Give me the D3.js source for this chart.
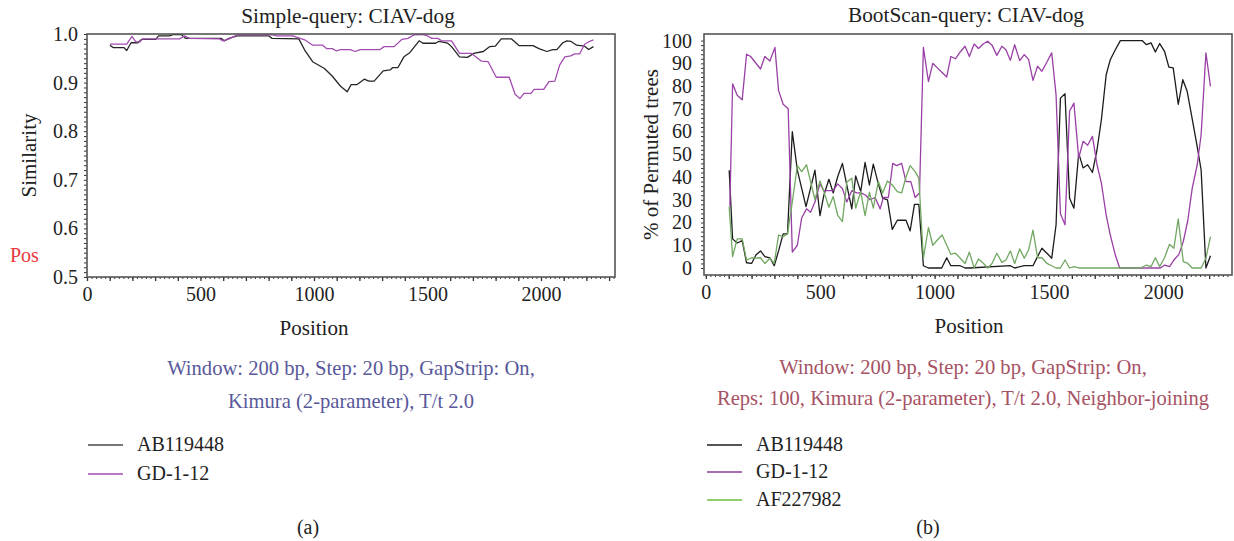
<!DOCTYPE html>
<html><head><meta charset="utf-8">
<script src="https://cdn.jsdelivr.net/npm/d3@7"></script>
<style>
body{margin:0;background:#fff;}
text{font-family:"Liberation Serif","Times New Roman",serif;}
</style></head>
<body><svg id="c" width="1234" height="541"></svg>
<script>
// ---------- DATA ----------
// (a) Simple-query similarity
const simAB_pos = [101,115,163,175,194,224,241,303,315,364,381,416,434,591,604,626,661,801,815,933,959,994,1046,1081,1116,1146,1164,1190,1221,1242,1265,1305,1335,1347,1370,1396,1423,1463,1480,1536,1550,1589,1606,1641,1676,1703,1746,1773,1799,1825,1869,1904,1965,1991,2026,2052,2070,2096,2114,2131,2157,2192,2210,2231];
const simAB_val = [.977,.972,.972,.966,.982,.982,.989,.989,.996,.996,.999,.999,.991,.991,.986,.991,.996,.996,.991,.990,.967,.943,.929,.913,.893,.881,.896,.896,.907,.903,.903,.924,.926,.931,.931,.953,.962,.986,.981,.981,.985,.981,.974,.953,.952,.960,.964,.974,.975,.990,.990,.976,.976,.970,.964,.968,.968,.982,.986,.985,.977,.975,.968,.974];
const simGD_pos = [101,175,198,215,233,245,408,430,451,583,600,626,661,819,836,906,959,994,1038,1055,1081,1099,1116,1160,1181,1204,1291,1309,1353,1388,1414,1440,1475,1501,1519,1545,1563,1606,1641,1694,1738,1767,1803,1860,1886,1907,1925,1956,1970,2012,2035,2061,2082,2105,2131,2149,2170,2192,2219,2231];
const simGD_val = [.979,.979,.995,.984,.984,.990,.990,.996,.991,.990,.986,.990,.998,.998,.996,.996,.988,.977,.977,.970,.970,.965,.968,.968,.964,.968,.968,.974,.974,.989,.991,.998,.999,.996,.991,.991,.986,.986,.960,.960,.944,.943,.911,.911,.876,.867,.878,.878,.886,.886,.902,.903,.936,.953,.955,.959,.959,.979,.986,.988];
const simXTicks = [0,500,1000,1500,2000];
const simYTicks = [0.5,0.6,0.7,0.8,0.9,1.0];

// (b) BootScan-query
const bootAB_pos = [102,117,137,159,178,200,219,239,258,280,299,318,338,357,378,400,438,477,499,516,538,557,576,597,616,638,655,677,696,715,732,754,773,794,815,837,875,893,912,931,951,973,1031,1053,1071,1112,1133,1152,1331,1350,1392,1430,1450,1469,1491,1512,1531,1550,1570,1590,1609,1630,1649,1669,1690,1710,1729,1750,1768,1790,1812,1907,1926,1946,1965,1984,2005,2024,2043,2065,2085,2104,2124,2145,2165,2186,2206];
const bootAB_val = [43,12.8,11,12,2.3,2,5.7,7.5,5,4.5,1,7.5,15,15,60,43,27,43,23,32,39,33,40,46,36.5,26,40.5,33.6,46.4,36.5,45.7,37,30.7,30,17,21,21,16.3,28,28,1,0,0,4.5,1,1,0,0,1,0,1,1,5,8.7,6.5,4.3,19,74.7,76.6,30.7,26.3,50.5,44,45.4,42,52,65.2,85,91.6,96,100,100,98.2,99,95,98.7,95.3,88.3,88,72,82.8,77.7,66.7,55,43.2,0,5.4];
const bootGD_pos = [105,117,137,159,178,196,239,258,280,302,318,338,360,378,400,419,440,458,477,499,516,538,557,576,597,616,638,659,678,699,718,740,762,776,798,817,834,856,875,896,915,934,951,973,992,1012,1033,1053,1071,1091,1112,1133,1152,1173,1192,1212,1232,1251,1272,1294,1312,1331,1350,1372,1392,1411,1430,1450,1469,1491,1512,1531,1550,1570,1590,1609,1630,1649,1669,1690,1710,1729,1750,1768,1790,1809,1987,2006,2027,2046,2068,2087,2107,2126,2148,2165,2186,2206];
const bootGD_val = [27,81,76,74,94,93,87.5,93,91,97,78,72,70,7,10,22,26,24.5,29,37,34,34,34,37,35,29,34,33,33,32,30,31,26,31,31,46,45,46,38,38,31,33,97,82,90,88,86,84,93,92,95,97.5,93,98.5,96.5,98.5,99.7,98,93.5,97.5,96,91.3,98.2,91.2,93.8,91.6,82.5,88.7,86.5,90.6,94.6,76,24,19,68.9,72.5,48.3,55.7,54,57.9,45.4,37.3,23.3,14.5,5.7,0,0,1.3,0.6,3.5,6,11.6,21,35,45.4,58.6,94.6,79.9];
const bootAF_pos = [102,117,137,159,178,200,219,239,258,280,299,318,338,357,378,400,419,440,458,477,499,516,538,557,576,597,616,638,655,677,696,715,732,754,773,794,815,837,856,875,893,915,931,951,973,992,1012,1033,1053,1071,1091,1112,1133,1152,1173,1192,1214,1232,1251,1272,1294,1312,1331,1350,1372,1392,1411,1430,1450,1469,1491,1512,1531,1550,1570,1590,1609,1630,1900,1926,1946,1965,1984,2005,2027,2046,2065,2087,2107,2126,2165,2186,2206];
const bootAF_val = [27,5,12.8,12.8,3.5,4.5,4.3,4.5,2,4.3,2,14.5,13.8,15,29,45,42.4,45.4,38,30,38.3,33.6,26.7,31.4,23.3,20.4,37.7,39.5,26.3,33.6,23,33.3,26.3,38,33,38.3,36.5,33.6,33,40,45,42.4,39.5,4.3,17.8,10,12.3,14.5,10,6,6.5,4.3,2,7,0,4,2,0,2,6.5,2.5,3.5,7.5,2,8.4,4.3,8,16.7,4.5,4.5,2,1,0,0,3.5,0,0.6,0,0,1.3,0.6,4.5,0.6,4.5,10.4,8.7,21.6,2.8,2,0,0,4.3,13.8];
const bootXTicks = [0,500,1000,1500,2000];
const bootYTicks = [0,10,20,30,40,50,60,70,80,90,100];

const simSeries = [
  {name:"AB119448", pos:simAB_pos, val:simAB_val, color:"#262626", legend:"#4a4a4a"},
  {name:"GD-1-12", pos:simGD_pos, val:simGD_val, color:"#a24cb0", legend:"#a24cb0"}
];
const bootSeries = [
  {name:"AB119448", pos:bootAB_pos, val:bootAB_val, color:"#1c1c1c", legend:"#1c1c1c"},
  {name:"GD-1-12", pos:bootGD_pos, val:bootGD_val, color:"#9a3fa6", legend:"#8e3c9c"},
  {name:"AF227982", pos:bootAF_pos, val:bootAF_val, color:"#72a862", legend:"#6cbc3c"}
];

// ---------- DRAW ----------
const svg = d3.select("#c");
const FS = 20, FS_T = 21.3, FS_L = 21, FS_C = 20.6;

function panel(cfg){
  const g = svg.append("g");
  const x = cfg.x, y = cfg.y;
  const [x0,x1] = x.range(), [yb,yt] = y.range();
  g.append("g").attr("transform",`translate(0,${yb})`)
    .call(d3.axisBottom(x).tickValues(d3.range(0, x.domain()[1], 20)).tickSize(2).tickFormat(""))
    .call(a=>a.select(".domain").remove())
    .selectAll("line").attr("stroke","#333");
  g.append("g").attr("transform",`translate(0,${yb})`)
    .call(d3.axisBottom(x).tickValues(d3.range(0, x.domain()[1], 100)).tickSize(4).tickFormat(""))
    .call(a=>a.select(".domain").remove())
    .selectAll("line").attr("stroke","#333").attr("stroke-width",1.3);
  g.append("g").attr("transform",`translate(0,${yb})`)
    .call(d3.axisBottom(x).tickValues(cfg.xTicks).tickSize(0).tickPadding(cfg.xPad).tickFormat(d3.format("d")))
    .call(a=>a.select(".domain").remove())
    .selectAll("text").attr("font-size",FS).attr("font-family",'"Liberation Serif",serif').attr("fill","#222");
  g.append("g").attr("transform",`translate(${x0},0)`)
    .call(d3.axisLeft(y).tickValues(cfg.yMinor).tickSize(3).tickFormat(""))
    .call(a=>a.select(".domain").remove())
    .selectAll("line").attr("stroke","#333");
  g.append("g").attr("transform",`translate(${x0},0)`)
    .call(d3.axisLeft(y).tickValues(cfg.yTicks).tickSize(0).tickPadding(cfg.yPad).tickFormat(cfg.yFmt))
    .call(a=>a.select(".domain").remove())
    .selectAll("text").attr("font-size",FS).attr("font-family",'"Liberation Serif",serif').attr("fill","#222");
  const cid = "clip"+cfg.id;
  svg.append("clipPath").attr("id",cid).append("rect")
    .attr("x",x0).attr("y",yt).attr("width",x1-x0).attr("height",yb-yt);
  const line = d3.line().x(d=>x(d[0])).y(d=>y(d[1]));
  cfg.series.forEach(s=>{
    g.append("path").attr("clip-path",`url(#${cid})`)
      .attr("d", line(s.pos.map((p,i)=>[p,s.val[i]])))
      .attr("fill","none").attr("stroke",s.color).attr("stroke-width",1.3)
      .attr("stroke-linejoin","round");
  });
  g.append("rect").attr("x",x0).attr("y",yt).attr("width",x1-x0).attr("height",yb-yt)
    .attr("fill","none").attr("stroke","#555").attr("stroke-width",1.6);
  g.append("text").attr("x",cfg.titleX).attr("y",cfg.titleY).attr("text-anchor","middle")
    .attr("font-size",FS_T).attr("fill","#222").text(cfg.title);
  g.append("text").attr("x",cfg.xLabX).attr("y",cfg.xLabY).attr("text-anchor","middle")
    .attr("font-size",FS_L).attr("fill","#222").text("Position");
  g.append("text").attr("transform",`translate(${cfg.yLabX},${(yb+yt)/2}) rotate(-90)`)
    .attr("text-anchor","middle").attr("font-size",FS_L).attr("fill","#222").text(cfg.yLabel);
  cfg.caption.forEach((c,i)=>{
    g.append("text").attr("x",cfg.capX).attr("y",cfg.capY[i]).attr("text-anchor","middle")
      .attr("font-size",FS_C).attr("fill",cfg.capColor).text(c);
  });
  cfg.series.forEach((s,i)=>{
    const ly = cfg.legY[i];
    g.append("line").attr("x1",cfg.legX).attr("x2",cfg.legX+35).attr("y1",ly).attr("y2",ly)
      .attr("stroke",s.legend).attr("stroke-width",1.6);
    g.append("text").attr("x",cfg.legX+49).attr("y",ly+6).attr("font-size",FS).attr("fill","#222").text(s.name);
  });
  g.append("text").attr("x",cfg.subX).attr("y",534).attr("text-anchor","middle")
    .attr("font-size",FS).attr("fill","#222").text(cfg.sub);
}

panel({
  id:"a",
  x: d3.scaleLinear().domain([0,2326]).range([87,615]),
  y: d3.scaleLinear().domain([0.5,1.0]).range([277,34]),
  xTicks: simXTicks, yTicks: simYTicks, yMinor: d3.range(0.5,1.0001,0.01),
  yFmt: d3.format(".1f"), xPad: 10, yPad: 9,
  series: simSeries,
  title:"Simple-query: CIAV-dog", titleX:348, titleY:23,
  xLabX:314, xLabY:335, yLabX:36, yLabel:"Similarity",
  caption:["Window: 200 bp, Step: 20 bp, GapStrip: On,","Kimura (2-parameter), T/t 2.0"],
  capX:351, capY:[375,408], capColor:"#58589a",
  legX:88, legY:[445,474], subX:308, sub:"(a)"
});
panel({
  id:"b",
  x: d3.scaleLinear().domain([-8,2300]).range([704,1232]),
  y: d3.scaleLinear().domain([-3.08,102.9]).range([275,34]),
  xTicks: bootXTicks, yTicks: bootYTicks, yMinor: d3.range(0,100.001,2),
  yFmt: d3.format("d"), xPad: 10, yPad: 12,
  series: bootSeries,
  title:"BootScan-query: CIAV-dog", titleX:966, titleY:22,
  xLabX:969, xLabY:333, yLabX:658, yLabel:"% of Permuted trees",
  caption:["Window: 200 bp, Step: 20 bp, GapStrip: On,","Reps: 100, Kimura (2-parameter), T/t 2.0, Neighbor-joining"],
  capX:963, capY:[374,405], capColor:"#a65264",
  legX:707, legY:[445,472,500], subX:928, sub:"(b)"
});
svg.append("text").attr("x",10).attr("y",262).attr("font-size",FS).attr("fill","#e8383c").text("Pos");
</script></body></html>
